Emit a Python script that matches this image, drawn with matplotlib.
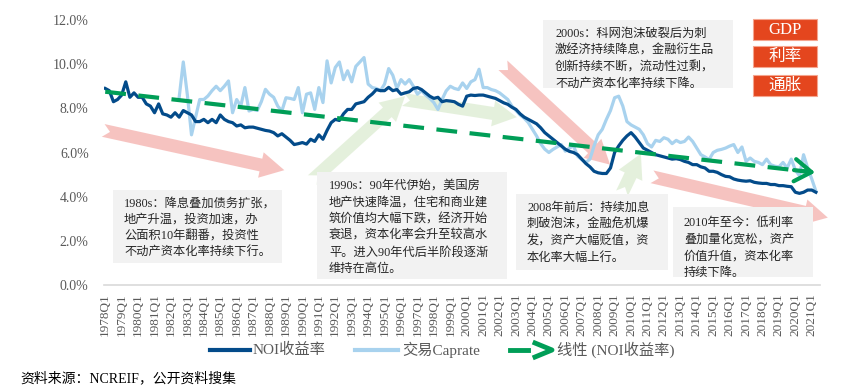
import numpy as np
import matplotlib.pyplot as plt
from matplotlib.patches import Polygon, Rectangle
from matplotlib.lines import Line2D

plt.rcParams['font.family'] = ['Liberation Serif', 'Noto Sans CJK SC']

# quarterly data, 1978Q1 - 2021Q2
years = list(range(1978, 2022))
noi = [
    8.9, 8.8, 8.3, 8.4,   8.6, 9.2, 8.5, 8.7,   8.5, 8.5, 8.2, 8.1,
    7.8, 8.2, 7.75, 7.7,  7.6, 7.8, 7.6, 7.9,   7.8, 7.7, 7.4, 7.4,
    7.5, 7.35, 7.5, 7.35, 7.7, 7.5, 7.4, 7.35,  7.2, 7.25, 7.12, 7.15,
    7.15, 7.1, 7.05, 7.0, 6.97, 6.9, 6.75, 6.85, 6.7, 6.55, 6.36, 6.4,
    6.45, 6.38, 6.6, 6.5, 6.8, 6.6, 7.0, 7.35,  7.5, 7.45, 7.75, 7.95,
    7.95, 8.2, 8.25, 8.3, 8.5, 8.65, 8.85, 8.8,  8.8, 8.95, 8.8, 8.85,
    8.64, 8.7, 8.75, 8.9, 8.94, 8.85, 8.7, 8.55, 8.45, 8.5, 8.3, 8.35,
    8.33, 8.3, 8.18, 8.1, 8.55, 8.6, 8.58, 8.6, 8.6, 8.55, 8.5, 8.45,
    8.35, 8.25, 8.18, 8.05, 7.95, 7.75, 7.6, 7.5, 7.4, 7.3, 7.12, 6.9,
    6.75, 6.6, 6.45, 6.3, 6.15, 6.05, 6.0, 5.9,  5.7, 5.5, 5.35, 5.15,
    5.08, 5.05, 5.05, 5.3, 6.0, 6.3, 6.55, 6.75, 6.9, 6.7, 6.45, 6.2,
    6.1, 6.0, 5.9, 5.85,  5.8, 5.75, 5.7, 5.72,  5.68, 5.6, 5.55, 5.45,
    5.45, 5.35, 5.3, 5.15, 5.15, 5.1, 5.0, 4.92, 4.9, 4.8, 4.75, 4.72,
    4.7, 4.72, 4.65, 4.62, 4.6, 4.6, 4.55, 4.55, 4.5, 4.5, 4.47, 4.45,
    4.2, 4.15, 4.2, 4.3,  4.3, 4.2,
]

# transaction cap rate starts 1982Q3
cap_start = 18
caprate = [
    8.5, 10.1,
    8.6, 6.8, 7.6, 8.4,   8.4, 8.56, 8.8, 9.0,  8.8, 9.0, 9.24, 7.8,
    8.4, 8.1, 8.94, 7.88, 7.95, 7.9, 8.3, 8.86, 8.64, 8.5, 8.1, 7.88,
    8.48, 8.45, 8.4, 8.94, 7.8, 8.64, 8.7, 7.95, 8.94, 8.26, 10.15, 9.15,
    9.85, 10.1, 9.3, 9.7, 9.2, 9.9, 10.1, 10.3,  9.1, 8.94, 8.9, 8.8,
    9.1, 9.8, 9.5, 8.9,   9.3, 9.1, 9.3, 9.0,    8.64, 8.8, 8.6, 8.45,
    8.26, 7.95, 8.4, 8.79, 9.0, 8.9, 8.85, 9.15, 8.9, 9.2, 9.3, 9.77,
    8.94, 8.94, 8.85, 8.8, 8.7, 8.55, 8.4, 8.1,  7.9, 7.7, 7.55, 7.35,
    7.05, 6.75, 6.4, 6.15, 6.0, 6.14, 6.25, 6.36, 6.06, 6.2, 6.3, 5.83,
    5.68, 5.55, 5.7, 6.3,  6.8, 7.05, 7.5, 7.9,  8.48, 8.55, 8.1, 7.4,
    7.25, 7.15, 7.05, 6.8, 6.4, 6.25, 6.55, 6.5, 6.67, 6.6, 6.4, 6.55,
    6.45, 6.5, 6.7, 6.5,  6.2, 5.9, 5.8, 5.68,  6.0, 6.1, 6.14, 6.2,
    6.29, 6.36, 6.0, 6.25, 5.6, 5.75, 5.6, 5.55, 5.45, 5.7, 5.45, 5.38,
    5.35, 5.55, 5.3, 5.7,  5.2, 4.95, 5.9, 5.3,  4.8, 4.25,
]

tick_labels = [f"{y}Q1" for y in years]
factors = ["GDP", "利率", "通胀"]

notes = [
    # (box in image px: x0, y0, x1, y1), first line centre y, pitch, lines
    ((113, 190, 282, 263), 124, 204, 16.0,
     ["1980s：降息叠加债务扩张，", "地产升温，投资加速，办",
      "公面积10年翻番，投资性", "不动产资本化率持续下行。"]),
    ((317, 172, 507, 279), 329, 186, 16.6,
     ["1990s：90年代伊始，美国房", "地产快速降温，住宅和商业建",
      "筑价值均大幅下跌，经济开始", "衰退，资本化率会升至较高水",
      "平。进入90年代后半阶段逐渐", "维持在高位。"]),
    ((543, 20, 733, 88), 555, 34, 16.5,
     ["2000s：科网泡沫破裂后为刺", "激经济持续降息，金融衍生品",
      "创新持续不断，流动性过剩，", "不动产资本化率持续下降。"]),
    ((516, 194, 668, 270), 527, 208, 16.6,
     ["2008年前后：持续加息", "刺破泡沫，金融危机爆",
      "发，资产大幅贬值，资", "本化率大幅上行。"]),
    ((673, 207, 813, 277), 684, 223, 16.6,
     ["2010年至今：低利率", "叠加量化宽松，资产",
      "价值升值，资本化率", "持续下降。"]),
]

# big trend arrows: (tail quarter idx, tail %, tip idx, tip %, colour)
pink = '#F6BDBA'
lgreen = '#E2EFD9'
trend_arrows = [
    (-0.5, 7.0, 43.6, 5.2, pink),
    (50.4, 4.75, 73.0, 8.55, lgreen),
    (72.5, 8.4, 100.2, 7.6, lgreen),
    (96.8, 9.95, 122.9, 5.45, pink),
    (125.8, 4.15, 130.4, 5.95, lgreen),
    (133.1, 4.9, 175.9, 3.05, pink),
]

W, H = 846, 391
def fx(x):
    return x / W
def fy(y):
    return 1 - y / H

navy = '#034B8A'
light = '#A8D2EE'
green = '#009E57'
grey = '#595959'

fig = plt.figure(figsize=(8.46, 3.91), dpi=100)
ax = fig.add_axes([fx(104), fy(285), fx(820) - fx(104), fy(20) - fy(285)])

idx = np.arange(len(noi))
cap_idx = np.arange(cap_start, cap_start + len(caprate))

ax.plot(cap_idx, caprate, color=light, lw=2.3, zorder=3)
ax.plot(idx, noi, color=navy, lw=2.3, zorder=4)

k, b = np.polyfit(idx, noi, 1)
tx = np.linspace(0, 171, 50)
ax.plot(tx, k * tx + b, color=green, lw=3, dashes=(5, 3), zorder=5)
ax.annotate('', xy=(173.5, k * 173.5 + b), xytext=(167, k * 167 + b),
            arrowprops=dict(arrowstyle='->,head_length=0.6,head_width=0.4',
                            color=green, lw=3, mutation_scale=20),
            zorder=5)

ax.set_xlim(-0.3, 174)
ax.set_ylim(0, 12)
ax.set_yticks(np.arange(0, 12.1, 2))
ax.set_yticklabels([f"{v:.1f}%" for v in np.arange(0, 12.1, 2)])
ax.set_xticks(np.arange(0, len(noi), 4))
ax.set_xticklabels(tick_labels, rotation=90)
ax.tick_params(axis='both', length=0, colors=grey)
ax.tick_params(axis='y', pad=11, labelsize=10)
ax.tick_params(axis='x', pad=6, labelsize=9.5)
for s in ['top', 'right', 'left']:
    ax.spines[s].set_visible(False)
ax.spines['bottom'].set_color('#D9D9D9')
ax.spines['bottom'].set_linewidth(1.2)

# decorative wide arrows, shaped in pixel space
fig.canvas.draw()
inv = ax.transData.inverted()
for x0, y0, x1, y1, col in trend_arrows:
    p0 = ax.transData.transform((x0, y0))
    p1 = ax.transData.transform((x1, y1))
    d = p1 - p0
    d = d / np.hypot(*d)
    n = np.array([-d[1], d[0]])
    bw, hw, hl, notch = 13, 26, 24, 7
    base = p1 - d * hl
    pts = [p0 + n * bw / 2, base + n * bw / 2, base + n * hw / 2, p1,
           base - n * hw / 2, base - n * bw / 2, p0 - n * bw / 2,
           p0 + d * notch]
    ax.add_patch(Polygon(inv.transform(pts), closed=True, facecolor=col,
                         edgecolor='none', alpha=0.9, zorder=1,
                         clip_on=False))

# note boxes
for (bx0, by0, bx1, by1), tx0, ty0, pitch, lines in notes:
    fig.patches.append(Rectangle((fx(bx0), fy(by1)), fx(bx1) - fx(bx0),
                                 fy(by0) - fy(by1), transform=fig.transFigure,
                                 facecolor='#F2F2F2', edgecolor='none',
                                 zorder=6))
    for i, line in enumerate(lines):
        fig.text(fx(tx0), fy(ty0 + i * pitch), line, fontsize=8.8,
                 color='#262626', va='center', ha='left', zorder=7)

# GDP / rate / inflation tags
for i, name in enumerate(factors):
    top = [19, 46, 75][i]
    fig.patches.append(Rectangle((fx(753), fy(top + 21)), fx(817) - fx(753),
                                 fy(top) - fy(top + 21),
                                 transform=fig.transFigure,
                                 facecolor='#E4461E', edgecolor='#F5A58F',
                                 lw=0.8, zorder=6))
    fig.text(fx(785), fy(top + 10.5), name, fontsize=12, color='white',
             ha='center', va='center', zorder=7)

# legend
ly = fy(350)
fig.add_artist(Line2D([fx(210), fx(250)], [ly, ly], color=navy, lw=3))
fig.text(fx(253), ly, "NOI收益率", fontsize=11, color=grey, va='center')
fig.add_artist(Line2D([fx(355), fx(398)], [ly, ly], color=light, lw=3))
fig.text(fx(402), ly, "交易Caprate", fontsize=11, color=grey, va='center')
fig.add_artist(Line2D([fx(510), fx(528)], [ly, ly], color=green, lw=3.5))
fig.add_artist(Line2D([fx(535), fx(552), fx(535)],
                      [fy(343), ly, fy(357)], color=green, lw=3.5))
fig.text(fx(557), ly, "线性 (NOI收益率)", fontsize=11, color=grey,
         va='center')

fig.text(fx(20), fy(378), "资料来源：NCREIF，公开资料搜集", fontsize=10,
         color='black', va='center')

fig.savefig('out.png', dpi=100)
